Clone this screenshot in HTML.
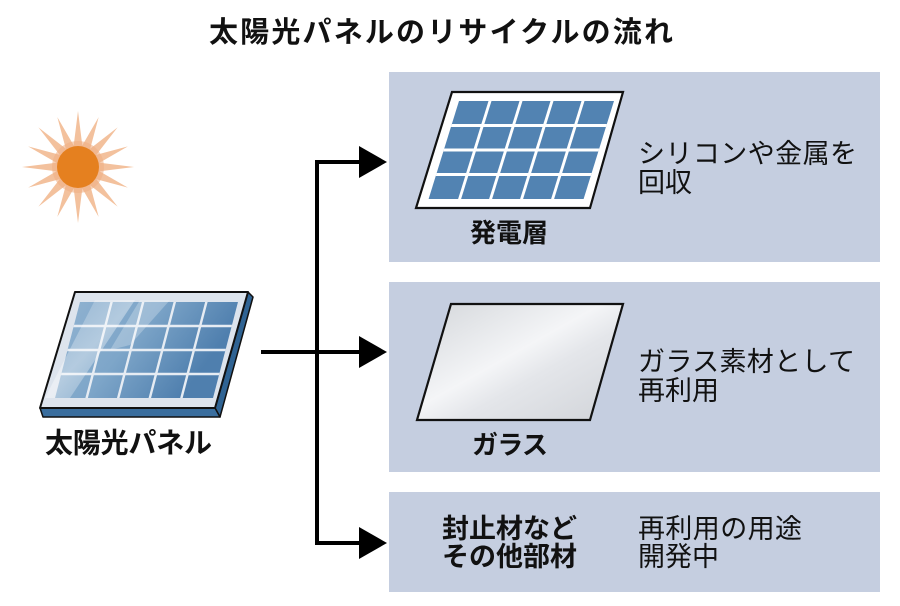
<!DOCTYPE html>
<html><head><meta charset="utf-8">
<style>
html,body{margin:0;padding:0;background:#fff;}
svg{display:block;}
text{font-family:"Liberation Sans","Noto Sans CJK JP",sans-serif;fill:#111;}
.b{font-weight:bold;}
</style></head>
<body>
<svg width="900" height="606" viewBox="0 0 900 606" xmlns="http://www.w3.org/2000/svg">
<defs>
<linearGradient id="cellL" x1="0" y1="0" x2="1" y2="0.3">
<stop offset="0" stop-color="#8db0cf"/>
<stop offset="0.45" stop-color="#7ea6c9"/>
<stop offset="1" stop-color="#4f7fae"/>
</linearGradient>
<linearGradient id="hl" x1="0" y1="0" x2="1" y2="1">
<stop offset="0" stop-color="#fff" stop-opacity="0"/>
<stop offset="0.5" stop-color="#fff" stop-opacity="0.55"/>
<stop offset="1" stop-color="#fff" stop-opacity="0"/>
</linearGradient>
<linearGradient id="glass" x1="0" y1="0" x2="1" y2="1">
<stop offset="0" stop-color="#d3d6da"/>
<stop offset="0.45" stop-color="#f4f5f7"/>
<stop offset="0.6" stop-color="#e4e6ea"/>
<stop offset="1" stop-color="#d0d3d8"/>
</linearGradient>
</defs>

<!-- title -->
<text class="b" x="209" y="33" font-size="29" dominant-baseline="central" textLength="464" lengthAdjust="spacing">太陽光パネルのリサイクルの流れ</text>

<!-- boxes -->
<rect x="389" y="72" width="491" height="190" fill="#c5cee0"/>
<rect x="389" y="282" width="491" height="190" fill="#c5cee0"/>
<rect x="389" y="492" width="491" height="100" fill="#c5cee0"/>

<!-- sun -->
<g transform="translate(78,167)">
<g fill="#f3c19d">
<polygon points="-5,-16 0,-56 5,-16" transform="rotate(0)"/>
<polygon points="-5,-16 0,-54 5,-16" transform="rotate(22.5)"/>
<polygon points="-5,-16 0,-56 5,-16" transform="rotate(45)"/>
<polygon points="-5,-16 0,-54 5,-16" transform="rotate(67.5)"/>
<polygon points="-5,-16 0,-56 5,-16" transform="rotate(90)"/>
<polygon points="-5,-16 0,-54 5,-16" transform="rotate(112.5)"/>
<polygon points="-5,-16 0,-56 5,-16" transform="rotate(135)"/>
<polygon points="-5,-16 0,-54 5,-16" transform="rotate(157.5)"/>
<polygon points="-5,-16 0,-56 5,-16" transform="rotate(180)"/>
<polygon points="-5,-16 0,-54 5,-16" transform="rotate(202.5)"/>
<polygon points="-5,-16 0,-56 5,-16" transform="rotate(225)"/>
<polygon points="-5,-16 0,-54 5,-16" transform="rotate(247.5)"/>
<polygon points="-5,-16 0,-56 5,-16" transform="rotate(270)"/>
<polygon points="-5,-16 0,-54 5,-16" transform="rotate(292.5)"/>
<polygon points="-5,-16 0,-56 5,-16" transform="rotate(315)"/>
<polygon points="-5,-16 0,-54 5,-16" transform="rotate(337.5)"/>
</g>
<circle cx="0" cy="0" r="26" fill="#f0b085" opacity="0.6"/>
<circle cx="0" cy="0" r="21" fill="#e5801f"/>
</g>

<!-- left solar panel -->
<polygon points="248,292 253,297 220,417 215,408" fill="#2f6393" stroke="#111" stroke-width="1.5" stroke-linejoin="round"/>
<polygon points="40,408 215,408 220,417 43,417" fill="#3a6e9e" stroke="#111" stroke-width="1.5" stroke-linejoin="round"/>
<polygon points="75,292 248,292 215,408 40,408" fill="#dde4ed" stroke="#111" stroke-width="2" stroke-linejoin="round"/>
<g transform="matrix(1,0,-0.26,1,158.5,0)">
<rect x="0" y="302" width="158" height="96" fill="url(#cellL)"/>
<g stroke="#e6ecf3" stroke-width="2.5">
<line x1="31.6" y1="302" x2="31.6" y2="398"/>
<line x1="63.2" y1="302" x2="63.2" y2="398"/>
<line x1="94.8" y1="302" x2="94.8" y2="398"/>
<line x1="126.4" y1="302" x2="126.4" y2="398"/>
<line x1="0" y1="326" x2="158" y2="326"/>
<line x1="0" y1="350" x2="158" y2="350"/>
<line x1="0" y1="374" x2="158" y2="374"/>
</g>
</g>
<polygon points="95,300 135,300 70,398 45,398" fill="url(#hl)" opacity="0.7"/>
<polygon points="140,300 170,300 130,345 110,350" fill="#fff" opacity="0.25"/>

<text class="b" x="45" y="443" font-size="28" dominant-baseline="central" textLength="167" lengthAdjust="spacing">太陽光パネル</text>

<!-- connectors -->
<g stroke="#000" stroke-width="4" fill="none">
<line x1="317" y1="160" x2="317" y2="545"/>
<line x1="315" y1="162" x2="362" y2="162"/>
<line x1="261" y1="352" x2="362" y2="352"/>
<line x1="315" y1="543" x2="362" y2="543"/>
</g>
<polygon points="359,146 387,162 359,178" fill="#000"/>
<polygon points="359,336 387,352 359,368" fill="#000"/>
<polygon points="359,527 387,543 359,559" fill="#000"/>

<!-- box1: power generation layer -->
<polygon points="452,92 623,92 590,208 416,208" fill="#fff" stroke="#111" stroke-width="2.2" stroke-linejoin="miter"/>
<g transform="matrix(1,0,-0.31,1,490.3,0)">
<rect x="0" y="101" width="155" height="98" fill="#5283b2"/>
<g stroke="#fff" stroke-width="3">
<line x1="31" y1="101" x2="31" y2="199"/>
<line x1="62" y1="101" x2="62" y2="199"/>
<line x1="93" y1="101" x2="93" y2="199"/>
<line x1="124" y1="101" x2="124" y2="199"/>
<line x1="0" y1="125.5" x2="155" y2="125.5"/>
<line x1="0" y1="150" x2="155" y2="150"/>
<line x1="0" y1="174.5" x2="155" y2="174.5"/>
</g>
</g>
<text class="b" x="470" y="233" font-size="26" dominant-baseline="central" textLength="78" lengthAdjust="spacing">発電層</text>
<text x="638" y="154" font-size="27" dominant-baseline="central" textLength="219" lengthAdjust="spacing">シリコンや金属を</text>
<text x="638" y="183" font-size="27" dominant-baseline="central">回収</text>

<!-- box2: glass -->
<polygon points="451,304 623,304 590,420 417,420" fill="url(#glass)" stroke="#111" stroke-width="2.2"/>
<text class="b" x="472" y="445" font-size="26" dominant-baseline="central" textLength="76" lengthAdjust="spacing">ガラス</text>
<text x="638" y="362" font-size="27" dominant-baseline="central" textLength="217" lengthAdjust="spacing">ガラス素材として</text>
<text x="638" y="391" font-size="27" dominant-baseline="central">再利用</text>

<!-- box3 -->
<text class="b" x="442" y="529" font-size="27" dominant-baseline="central" textLength="135" lengthAdjust="spacing">封止材など</text>
<text class="b" x="442" y="557" font-size="27" dominant-baseline="central" textLength="135" lengthAdjust="spacing">その他部材</text>
<text x="638" y="529" font-size="27" dominant-baseline="central" textLength="164" lengthAdjust="spacing">再利用の用途</text>
<text x="638" y="557" font-size="27" dominant-baseline="central">開発中</text>
</svg>
</body></html>
